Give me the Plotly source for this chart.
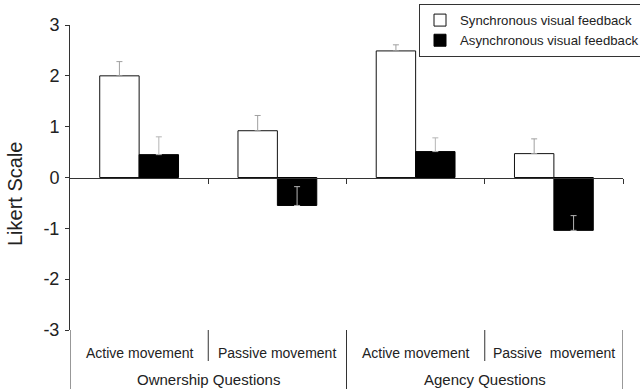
import plotly.graph_objects as go

# ---- data ----
groups = ["Ownership Questions", "Agency Questions"]
conditions = ["Active movement", "Passive movement", "Active movement", "Passive  movement"]
positions = [0, 1, 2, 3]
sync_vals = [2.0, 0.92, 2.49, 0.47]
sync_err = [0.28, 0.30, 0.12, 0.29]
async_vals = [0.45, -0.55, 0.51, -1.04]
async_err = [0.35, 0.37, 0.27, 0.29]
y_ticks = [-3, -2, -1, 0, 1, 2, 3]
series_names = ["Synchronous visual feedback", "Asynchronous visual feedback"]

FONT = "Arial, Liberation Sans, sans-serif"
TXT = "#222222"
LINE = "#333333"

fig = go.Figure()
fig.add_trace(go.Bar(
    x=positions, y=sync_vals, name=series_names[0],
    marker=dict(color="white", line=dict(color="#111111", width=1)),
    error_y=dict(type="data", symmetric=False, array=sync_err,
                 arrayminus=[0] * len(sync_err), color="#a0a0a0",
                 thickness=1, width=3),
))
fig.add_trace(go.Bar(
    x=positions, y=async_vals, name=series_names[1],
    marker=dict(color="black", line=dict(color="black", width=1)),
    error_y=dict(type="data", symmetric=False, array=async_err,
                 arrayminus=[0] * len(async_err), color="#b5b5b5",
                 thickness=1, width=3),
))

# plot area: x 70..623 px, y 25..330 px
H_PLOT = 305.0
W_PLOT = 553.0
def py(pix):
    return (330.0 - pix) / H_PLOT
def px(pix):
    return (pix - 70.0) / W_PLOT

annotations = []
# inner category labels
for p, c in zip(positions, conditions):
    annotations.append(dict(x=p, y=py(353), xref="x", yref="paper", text=c,
                            showarrow=False, xanchor="center", yanchor="middle",
                            font=dict(family=FONT, size=14, color=TXT)))
# outer group labels
for i, g in enumerate(groups):
    annotations.append(dict(x=positions[2 * i] + 0.5, y=py(379), xref="x", yref="paper",
                            text=g, showarrow=False, xanchor="center", yanchor="middle",
                            font=dict(family=FONT, size=15, color=TXT)))
# y title
annotations.append(dict(x=px(15), y=py(194), xref="paper", yref="paper",
                        text="Likert Scale", textangle=-90, showarrow=False,
                        xanchor="center", yanchor="middle",
                        font=dict(family=FONT, size=20, color=TXT)))

shapes = []
# y-axis extension down through label area
shapes.append(dict(type="line", xref="x", yref="paper", x0=-0.5, x1=-0.5,
                   y0=0, y1=py(392), line=dict(color=LINE, width=1)))
for k, xb in enumerate([0.5, 1.5, 2.5, 3.5]):
    bottom = py(361) if k % 2 == 0 else py(392)
    shapes.append(dict(type="line", xref="x", yref="paper", x0=xb, x1=xb,
                       y0=0, y1=bottom, line=dict(color=LINE, width=1)))

fig.update_layout(
    width=640, height=389,
    margin=dict(l=70, r=17, t=25, b=59, pad=0, autoexpand=False),
    paper_bgcolor="white", plot_bgcolor="white",
    barmode="group", bargap=0.43, bargroupgap=0,
    font=dict(family=FONT, color=TXT),
    showlegend=True,
    legend=dict(x=px(645), xanchor="right", y=py(4), yanchor="top",
                bgcolor="white", bordercolor=LINE, borderwidth=1,
                font=dict(family=FONT, size=13.2, color=TXT),
                tracegroupgap=0, itemwidth=30),
    xaxis=dict(range=[-0.5, 3.5], anchor="free", position=0.5,
               showline=True, linecolor=LINE, linewidth=1,
               tickmode="array", tickvals=[0.5, 1.5, 2.5, 3.5],
               ticks="outside", ticklen=5, tickcolor=LINE,
               showticklabels=False, showgrid=False, zeroline=False),
    yaxis=dict(range=[-3, 3], tickmode="array", tickvals=y_ticks,
               ticktext=[str(v) for v in y_ticks],
               showline=True, linecolor=LINE, linewidth=1,
               ticks="outside", ticklen=4, tickcolor=LINE,
               ticklabelstandoff=2,
               tickfont=dict(family=FONT, size=18, color=TXT),
               showgrid=False, zeroline=False),
    annotations=annotations,
    shapes=shapes,
)

fig.write_html("out.html")
